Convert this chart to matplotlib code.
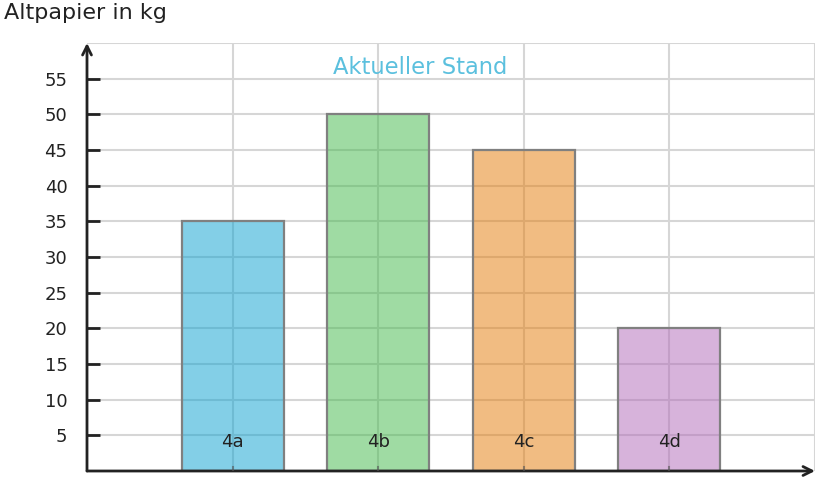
import matplotlib
matplotlib.use("Agg")
import matplotlib.pyplot as plt

categories = ["4a", "4b", "4c", "4d"]
values = [35, 50, 45, 20]
colors = ["#09A1D1", "#41B949", "#E57B07", "#B169B9"]
yticks = [5, 10, 15, 20, 25, 30, 35, 40, 45, 50, 55]
title = "Altpapier in kg"
subtitle = "Aktueller Stand"

fig = plt.figure(figsize=(8.19, 4.8), dpi=100)
ax = fig.add_axes([87/819, 9/480, 728/819, 428/480])
ax.set_xlim(0, 5)
ax.set_ylim(0, 60)

pos = list(range(1, len(categories) + 1))
grid_c = "#d6d6d6"
for y in yticks + [60]:
    ax.axhline(y, color=grid_c, lw=1.5, zorder=1)
for x in pos + [5]:
    ax.axvline(x, color=grid_c, lw=1.5, zorder=1)

ax.bar(pos, values, width=0.7, color=colors, alpha=0.5, edgecolor="none",
       linewidth=0, zorder=2)
ax.bar(pos, values, width=0.7, fill=False, edgecolor="#808080", linewidth=1.6, zorder=3)

for s in ["top", "right", "left", "bottom"]:
    ax.spines[s].set_visible(False)

ax.set_xticks([])
ax.set_yticks(yticks)
ax.set_yticklabels([str(t) for t in yticks])
ax.tick_params(axis="y", direction="in", length=9, width=2, color="#222222",
               labelsize=13, labelcolor="#222222", pad=14)

for p, c in zip(pos, categories):
    ax.text(p, 4.0, c, ha="center", va="center", fontsize=13, color="#222222", zorder=4)
    ax.plot([p, p], [0, 0.6], color="#555555", lw=1.5, alpha=0.6, zorder=4)

# axes with arrows
ax.annotate("", xy=(0, 1.0), xytext=(0, 0), xycoords="axes fraction",
            arrowprops=dict(arrowstyle="->", lw=2, color="#222222", mutation_scale=16,
                            shrinkA=0, shrinkB=0), annotation_clip=False)
ax.annotate("", xy=(1.0, 0), xytext=(0, 0), xycoords="axes fraction",
            arrowprops=dict(arrowstyle="->", lw=2, color="#222222", mutation_scale=16,
                            shrinkA=0, shrinkB=0), annotation_clip=False)

ax.text(2.29, 56.5, subtitle, ha="center", va="center", fontsize=16.3, color="#5BC0DE", zorder=5)
fig.text(4/819, 1 - 13/480, title, ha="left", va="center", fontsize=16, color="#222222")

fig.savefig("out.png", dpi=100)
